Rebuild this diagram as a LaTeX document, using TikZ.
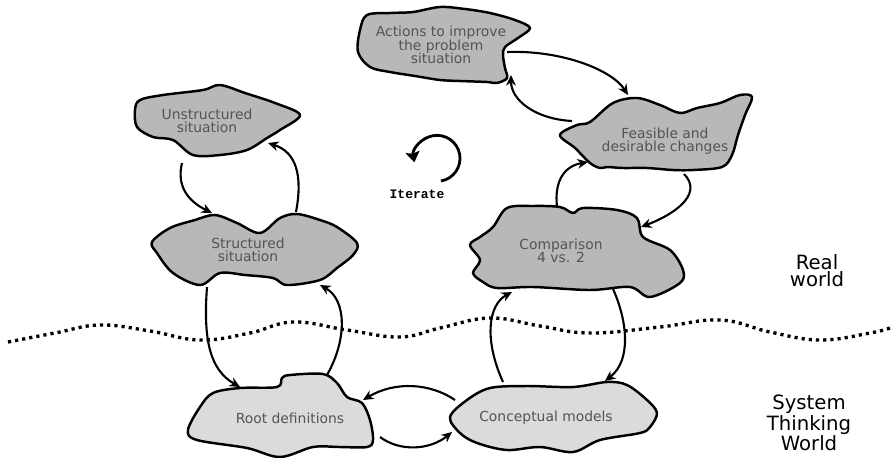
\documentclass[tikz,border=0pt]{standalone}
\usepackage{fontspec}
\setmainfont{DejaVu Sans}
\newfontfamily\iterfont{Liberation Mono}
\usetikzlibrary{arrows.meta}

\definecolor{upperfill}{gray}{0.72}
\definecolor{lowerfill}{gray}{0.86}
\definecolor{blobtext}{gray}{0.33}

\begin{document}
\begin{tikzpicture}[x=0.02cm, y=-0.02cm, every node/.style={font=\fontsize{7.9}{7.7}\selectfont, text=blobtext, align=center, inner sep=0pt}]
\tikzstyle{upper} = [draw=black, line width=1.4pt, fill=upperfill, line join=round]
\tikzstyle{lower} = [draw=black, line width=1.4pt, fill=lowerfill, line join=round]
\tikzstyle{arrow} = [line width=1.2pt, -{Stealth[length=6pt,width=5.5pt]}]
\tikzstyle{itarrow} = [line width=1.6pt, -{Stealth[length=6pt,width=8pt,inset=1pt]}]
\tikzstyle{boundary} = [line width=1.9pt, dash pattern=on 1.8pt off 2.3pt]
\tikzstyle{worldlabel} = [font=\fontsize{11.2}{9.8}\selectfont, text=black]

\useasboundingbox (0,0) rectangle (892,457);

% real world / systems thinking boundary
\draw[boundary] plot[smooth, tension=0.7] coordinates {(8,342) (55,333) (100,325) (150,331) (200,340) (250,333) (293,322) (347,330) (400,337) (440,328) (490,318) (540,326) (590,333) (660,327) (720,320) (770,332) (820,340) (870,333) (890,328)};

% upper blobs
\draw[upper] plot[smooth cycle, tension=0.55] coordinates {(360,30) (367,15) (390,13) (413,12) (440,7) (465,9) (490,13) (515,20) (530,28) (518,38) (505,47) (503,55) (505,68) (507,78) (497,83) (487,82) (460,81) (440,80) (415,76) (390,72) (370,67) (358,52)};
\node (actions) at (441,45) {Actions to improve\\the problem\\situation};

\draw[upper] plot[smooth cycle, tension=0.55] coordinates {(135,110) (140,100) (163,95) (203,90) (220,85) (245,93) (275,103) (300,115) (280,130) (267,138) (247,150) (220,155) (193,155) (173,140) (153,137) (137,127)};
\node (unstructured) at (207,121) {Unstructured\\situation};

\draw[upper] plot[smooth cycle, tension=0.55] coordinates {(152,242) (170,228) (195,220) (215,215) (237,223) (260,233) (280,218) (297,214) (320,220) (337,227) (357,243) (353,255) (337,268) (320,280) (287,285) (273,278) (245,275) (220,273) (200,285) (173,273) (157,253)};
\node (structured) at (248,250) {Structured\\situation};

\draw[upper] plot[smooth cycle, tension=0.55] coordinates {(470,245) (480,237) (493,227) (507,208) (533,206) (560,207) (573,213) (583,208) (617,210) (637,218) (643,237) (670,250) (683,270) (680,283) (650,297) (630,287) (590,290) (533,287) (497,288) (483,282) (473,273) (480,260)};
\node (compare) at (561,251) {Comparison\\4 vs. 2};

\draw[upper] plot[smooth cycle, tension=0.55] coordinates {(560,135) (577,125) (590,122) (613,103) (637,98) (660,105) (680,113) (697,108) (720,103) (740,95) (752,97) (745,115) (738,135) (732,155) (722,167) (693,170) (673,170) (647,168) (623,168) (607,167) (600,168) (590,163) (575,148)};
\node (feasible) at (665,141) {Feasible and\\desirable changes};

% lower blobs
\draw[lower] plot[smooth cycle, tension=0.55] coordinates {(213,393) (240,388) (277,387) (282,378) (290,375) (323,374) (337,383) (347,397) (362,403) (370,420) (373,440) (367,447) (340,447) (313,447) (280,457) (247,448) (197,440) (188,430) (200,407)};
\node (rootdef) at (290,418) {Root definitions};

\draw[lower] plot[smooth cycle, tension=0.55] coordinates {(450,417) (467,400) (490,388) (527,386) (573,387) (607,382) (627,385) (647,400) (657,413) (650,427) (640,433) (600,440) (573,452) (540,447) (507,450) (477,443) (460,433)};
\node (concept) at (546,418) {Conceptual models};

% connector ends on the blob outlines
\coordinate (unstructured-s) at (182,163);
\coordinate (unstructured-se) at (268,143);
\coordinate (structured-nw) at (212,213);
\coordinate (structured-ne) at (296,212);
\coordinate (structured-sw) at (207,287);
\coordinate (structured-se) at (320,285);
\coordinate (rootdef-nw) at (240,387);
\coordinate (rootdef-ne) at (327,375);
\coordinate (rootdef-e) at (363,400);
\coordinate (rootdef-se) at (380,437);
\coordinate (concept-w) at (452,432);
\coordinate (concept-nw) at (455,400);
\coordinate (concept-n) at (503,382);
\coordinate (concept-ne) at (605,381);
\coordinate (compare-sw) at (512,292);
\coordinate (compare-s) at (613,289);
\coordinate (compare-n) at (557,207);
\coordinate (compare-ne) at (641,227);
\coordinate (feasible-sw) at (588,162);
\coordinate (feasible-se) at (684,174);
\coordinate (feasible-w) at (572,121);
\coordinate (feasible-n) at (628,95);
\coordinate (actions-e) at (507,52);
\coordinate (actions-se) at (511,75);

\draw[arrow] (unstructured-s) .. controls (176,188) and (190,202) .. (structured-nw);
\draw[arrow] (structured-ne) .. controls (303,175) and (296,152) .. (unstructured-se);
\draw[arrow] (structured-sw) .. controls (203,340) and (210,370) .. (rootdef-nw);
\draw[arrow] (rootdef-ne) .. controls (347,340) and (347,300) .. (structured-se);
\draw[arrow] (concept-nw) .. controls (430,383) and (395,381) .. (rootdef-e);
\draw[arrow] (rootdef-se) .. controls (400,452) and (430,450) .. (concept-w);
\draw[arrow] (concept-n) .. controls (484,340) and (488,305) .. (compare-sw);
\draw[arrow] (compare-s) .. controls (627,320) and (632,360) .. (concept-ne);
\draw[arrow] (compare-n) .. controls (554,180) and (565,166) .. (feasible-sw);
\draw[arrow] (feasible-se) .. controls (702,192) and (680,212) .. (compare-ne);
\draw[arrow] (actions-e) .. controls (562,50) and (612,70) .. (feasible-n);
\draw[arrow] (feasible-w) .. controls (535,119) and (511,100) .. (actions-se);

% iterate symbol
\coordinate (iterate-start) at (441,181);
\draw[itarrow] (iterate-start) arc[start angle=80, end angle=-190, radius=23];
\node (iterate) at (417,194) {\iterfont\bfseries\fontsize{7.4}{8}\selectfont\color{black}Iterate};

% world labels
\node[worldlabel] (realworld) at (817,271) {Real\\world};
\node[worldlabel] (systemworld) at (809,423) {System\\Thinking\\World};
\end{tikzpicture}
\end{document}
